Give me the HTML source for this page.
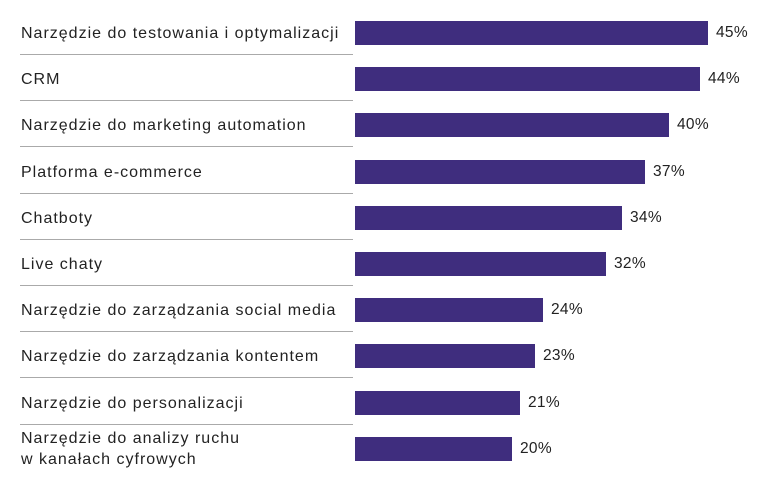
<!DOCTYPE html>
<html><head><meta charset="utf-8"><style>
body{margin:0;width:775px;height:490px;background:#fff;position:relative;font-family:"Liberation Sans",sans-serif;color:#222;overflow:hidden}
.l{position:absolute;left:21px;font-size:16px;line-height:21px;letter-spacing:1px;white-space:nowrap}
.b{position:absolute;left:355px;height:24px;background:#3f2d7e}
.v{position:absolute;font-size:15.5px;line-height:24px;letter-spacing:0.3px}
.s{position:absolute;left:20px;width:333px;height:1px;background:#aaa}
</style></head><body>
<div id="c"></div>
<script>
var d=[["Narzędzie do testowania i optymalizacji",45],["CRM",44],["Narzędzie do marketing automation",40],["Platforma e-commerce",37],["Chatboty",34],["Live chaty",32],["Narzędzie do zarządzania social media",24],["Narzędzie do zarządzania kontentem",23],["Narzędzie do personalizacji",21],["Narzędzie do analizy ruchu<br>w kanałach cyfrowych",20]];
var h="";
d.forEach(function(r,i){var t=21+46.2*i;var w=Math.round(r[1]*7.84);
var two=r[0].indexOf("<br>")>0;
h+='<div class="l" style="top:'+(two?t-9:t+2)+'px">'+r[0]+'</div>';
h+='<div class="b" style="top:'+t+'px;width:'+w+'px"></div>';
h+='<div class="v" style="top:'+t+'px;left:'+(355+w+8)+'px">'+r[1]+'%</div>';
if(i<9)h+='<div class="s" style="top:'+Math.round(54+46.2*i)+'px"></div>';});
document.getElementById("c").innerHTML=h;
</script>
</body></html>
